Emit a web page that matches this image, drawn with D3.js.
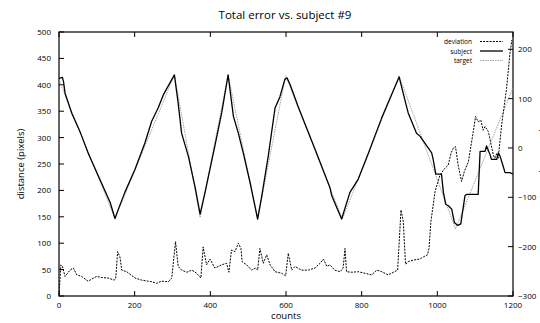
<!DOCTYPE html>
<html><head><meta charset="utf-8">
<script src="https://cdn.jsdelivr.net/npm/d3@7/dist/d3.min.js"></script>
<style>body{margin:0;background:#fff;}svg{display:block;font-family:"Open Sans",sans-serif;}</style>
</head><body>
<svg id="c" width="540" height="323"></svg>
<script>
const title = "Total error vs. subject #9";
const xTicks = [0,200,400,600,800,1000,1200];
const yTicks = [0,50,100,150,200,250,300,350,400,450,500];
const y2Ticks = [-300,-200,-100,0,100,200];
const legendNames = ["deviation","subject","target"];

const targetCounts = [0,148,305,373,447,525,599,749,899,1048,1200];
const targetValues = [138,-143,148,-141,148,-144,146,-144,146,-164,122];

const subjectCounts = [0,9,12,16,34,55,60,77,104,135,148,157,174,201,227,245,262,276,305,315,324,342,359,373,386,412,430,447,461,474,487,505,525,536,553,571,584,597,603,611,632,677,716,721,747,769,791,818,853,879,899,914,923,945,954,967,985,989,996,1011,1016,1022,1029,1038,1045,1054,1062,1073,1078,1108,1113,1126,1130,1139,1143,1157,1161,1166,1174,1179,1192,1200];
const subjectValues = [141,143,134,111,70,34,24,-10,-57,-110,-143,-124,-90,-43,10,54,81,108,148,91,30,-17,-77,-134,-90,4,71,148,64,30,-10,-70,-144,-97,-17,81,104,139,142,128,84,-3,-80,-97,-144,-90,-63,-10,61,108,144,98,71,30,24,10,-10,-23,-53,-53,-90,-114,-117,-124,-151,-157,-154,-97,-94,-94,-7,-7,4,-13,-23,-23,-10,-17,-37,-50,-50,-53];

const devCounts = [0,5,9,16,29,38,47,60,77,91,100,113,130,146,150,155,161,166,179,201,219,236,245,258,271,289,298,308,315,324,338,351,364,375,381,390,399,412,430,443,449,456,465,474,481,484,496,509,520,525,531,540,549,558,571,589,599,606,615,624,641,659,677,690,699,708,716,729,743,751,756,760,774,791,809,826,840,853,870,884,895,904,910,916,923,936,954,963,974,978,983,994,1007,1020,1029,1036,1042,1048,1055,1064,1071,1082,1095,1101,1108,1115,1121,1126,1135,1148,1152,1157,1161,1170,1183,1192,1197];
const devValues = [2,59,56,37,49,53,40,37,28,34,37,35,34,30,34,84,74,49,46,34,30,28,27,24,28,27,34,103,56,49,45,49,43,34,93,59,70,53,59,62,45,87,84,100,90,65,59,49,53,49,90,62,78,59,46,43,38,81,49,56,49,49,53,62,70,56,59,49,46,53,90,46,45,46,43,40,49,46,40,45,49,163,141,60,65,68,70,74,78,90,141,198,229,242,248,270,280,283,248,217,235,254,311,340,330,333,314,321,311,267,261,270,261,324,393,460,485];

const svg = d3.select("#c");
const L = 59, R = 513, T = 32, B = 296;
const x = d3.scaleLinear().domain([0,1200]).range([L,R]);
const y = d3.scaleLinear().domain([0,500]).range([B,T]);
const y2 = d3.scaleLinear().domain([-300,235]).range([B,T]);

const fs = 8;
svg.append("text").attr("x",285).attr("y",19).attr("text-anchor","middle")
  .attr("font-size",11.5).text(title);

svg.append("rect").attr("x",L).attr("y",T).attr("width",R-L).attr("height",B-T)
  .attr("fill","none").attr("stroke","#000").attr("stroke-width",1.2);

xTicks.forEach(v=>{
  svg.append("line").attr("x1",x(v)).attr("x2",x(v)).attr("y1",B).attr("y2",B-5).attr("stroke","#000");
  svg.append("line").attr("x1",x(v)).attr("x2",x(v)).attr("y1",T).attr("y2",T+5).attr("stroke","#000");
  svg.append("text").attr("x",x(v)).attr("y",B+12).attr("text-anchor","middle").attr("font-size",fs).text(v);
});
yTicks.forEach(v=>{
  svg.append("line").attr("x1",L).attr("x2",L+5).attr("y1",y(v)).attr("y2",y(v)).attr("stroke","#000");
  svg.append("text").attr("x",L-8).attr("y",y(v)+3).attr("text-anchor","end").attr("font-size",fs).text(v);
});
y2Ticks.forEach(v=>{
  svg.append("line").attr("x1",R).attr("x2",R-5).attr("y1",y2(v)).attr("y2",y2(v)).attr("stroke","#000");
  svg.append("text").attr("x",R+5).attr("y",y2(v)+3).attr("text-anchor","start").attr("font-size",fs)
    .text(v<0?"\u2212"+Math.abs(v):v);
});

svg.append("text").attr("transform","translate(24,164) rotate(-90)").attr("text-anchor","middle")
  .attr("font-size",9.5).text("distance (pixels)");
svg.append("text").attr("x",286).attr("y",319).attr("text-anchor","middle").attr("font-size",9.5).text("counts");
svg.append("text").attr("transform","translate(541,164) rotate(90)").attr("text-anchor","middle")
  .attr("font-size",9.5).text("position (pixels)");

svg.append("clipPath").attr("id","pc").append("rect")
  .attr("x",L).attr("y",T).attr("width",R-L).attr("height",B-T);
const g = svg.append("g").attr("clip-path","url(#pc)");

const tgt = targetCounts.map((c,i)=>[c,targetValues[i]]);
const sub = subjectCounts.map((c,i)=>[c,subjectValues[i]]);
const dev = devCounts.map((c,i)=>[c,devValues[i]]);

g.append("path").datum(tgt).attr("d",d3.line().x(d=>x(d[0])).y(d=>y2(d[1])))
  .attr("fill","none").attr("stroke","#999").attr("stroke-width",0.9).attr("stroke-dasharray","1.5,1");
g.append("path").datum(sub).attr("d",d3.line().x(d=>x(d[0])).y(d=>y2(d[1])))
  .attr("fill","none").attr("stroke","#000").attr("stroke-width",1.3).attr("stroke-linejoin","round");
g.append("path").datum(dev).attr("d",d3.line().x(d=>x(d[0])).y(d=>y(d[1])))
  .attr("fill","none").attr("stroke","#000").attr("stroke-width",1).attr("stroke-dasharray","2,1.2");

const ly = [41.5,51,60.5];
const styles = [
  {s:"#000",w:1,da:"2,1.2"},
  {s:"#000",w:1.3,da:null},
  {s:"#999",w:0.9,da:"1.5,1"}
];
legendNames.forEach((n,i)=>{
  svg.append("text").attr("x",472).attr("y",ly[i]+2.5).attr("text-anchor","end").attr("font-size",6.5).text(n);
  const l = svg.append("line").attr("x1",480).attr("x2",503).attr("y1",ly[i]).attr("y2",ly[i])
    .attr("stroke",styles[i].s).attr("stroke-width",styles[i].w);
  if(styles[i].da) l.attr("stroke-dasharray",styles[i].da);
});
</script>
</body></html>
